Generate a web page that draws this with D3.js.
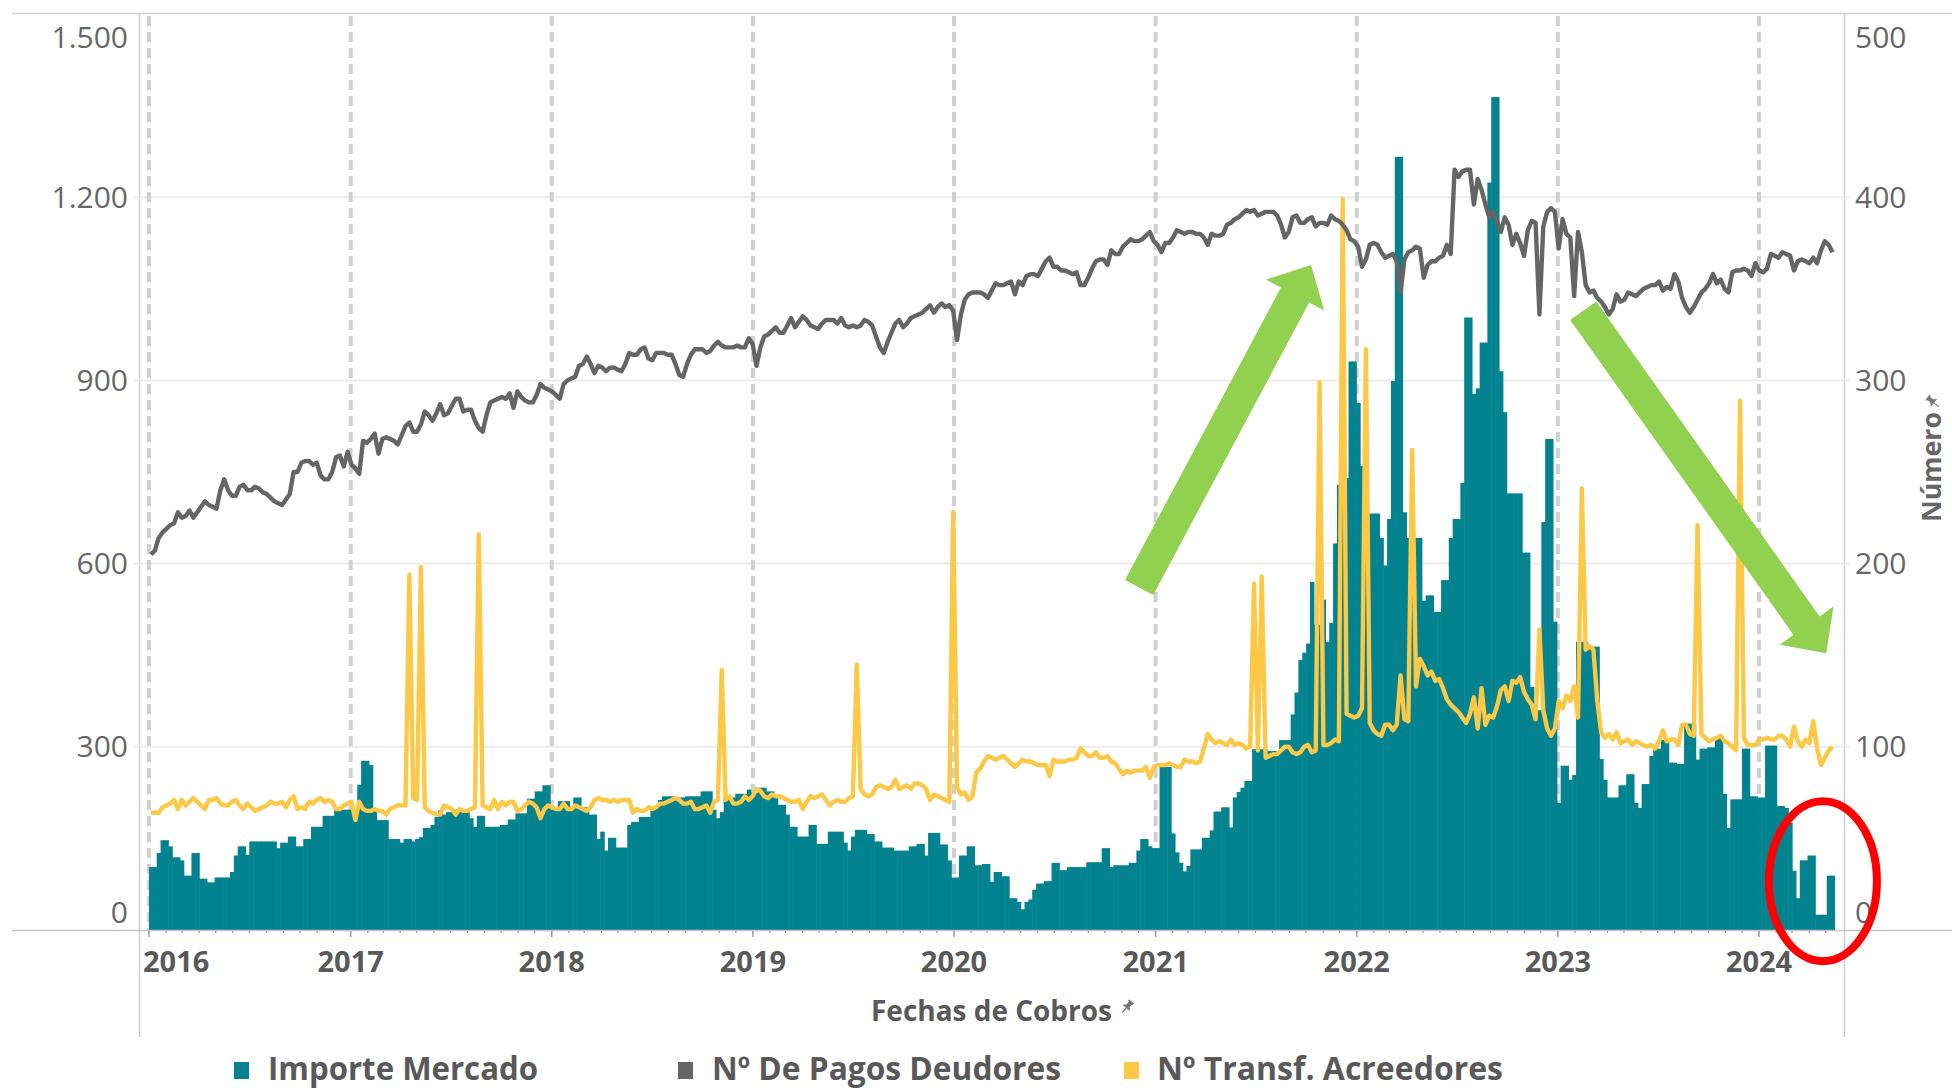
<!DOCTYPE html>
<html>
<head>
<meta charset="utf-8">
<script src="https://cdn.jsdelivr.net/npm/d3@7"></script>
<style>
  html, body { margin: 0; padding: 0; background: #ffffff; }
  svg { display: block; }
  text { font-family: "Open Sans", "Noto Sans", sans-serif; }
</style>
</head>
<body>
<svg id="chart" width="1952" height="1090"></svg>
<script>
// Weekly series, one value per week starting on the first week of 2016
const firstWeek = "2016-01-01";
const yearTicks = [2016, 2017, 2018, 2019, 2020, 2021, 2022, 2023, 2024];
const leftTicks = [0, 300, 600, 900, 1200, 1500];
const rightTicks = [0, 100, 200, 300, 400, 500];
const leftTickLabels = ["0", "300", "600", "900", "1.200", "1.500"];
const rightTickLabels = ["0", "100", "200", "300", "400", "500"];
const seriesNames = ["Importe Mercado", "Nº De Pagos Deudores", "Nº Transf. Acreedores"];

// Importe Mercado (left axis)
const importeMercado = [
  103,103,126,147,147,137,119,119,114,89, 89,126,126,84,84,78,78,86,86,86,
  86,95,122,137,137,123,145,145,145,145, 145,145,145,134,143,143,153,153,137,137,
  149,149,169,169,169,187,187,187,197,197, 197,197,
  197,197,238,277,277,270,197,180,180,180, 149,149,149,143,149,149,145,149,152,167,
  167,172,185,196,189,193,193,197,197,197, 197,183,169,187,
  187,169,169,169,169,172,172,181,181,191, 191,191,215,215,227,227,237,237,197,197,
  211,211,211,197,217,217,201,201,189,189, 149,161,130,151,151,135,135,135,172,177,
  177,185,185,185,199,199,213,219,219,219, 217,217,217,219,219,219,219,227,227,227,
  197,183,193,217,217,217,223,223,223,230, 225,225,233,233,227,227,217,205,205,189,
  169,169,153,153,153,172,172,141,141,141, 161,161,161,
  161,143,130,153,164,164,164,157,157,145, 145,135,135,135,130,130,130,130,137,137,
  141,141,122,159,159,159,140,140,114,86, 86,122,122,137,137,106,106,108,108,79,
  95,95,88,88,52,52,46,34,46,50, 66,76,76,80,80,110,110,98,98,103,
  103,103,103,103,111,111,111,111,134,134, 103,106,106,106,106,110,110,130,149,149,
  137,134,134,267,267,267,
  158,127,110,96,105,132,132,132,151,151, 163,194,194,201,201,168,217,226,233,244,
  244,296,296,296,296,293,293,293,311,311, 311,353,389,442,454,469,570,500,500,541,
  472,503,633,729,740,740,931,931,863,760, 760,682,682,682,642,597,673,899,1266,1266,
  684,642,642,642,642,539,548,548,521,521, 573,573,642,673,673,732,1003,1003,878,887,
  962,962,1224,1364,1364,
  915,848,715,715,715,715,618,618,398,360, 360,668,804,804,505,208,269,269,246,254,
  472,472,472,464,464,464,280,246,217,217, 217,237,237,255,255,208,200,239,239,285,
  297,297,311,311,274,274,272,272,338,338, 338,279,297,297,299,299,316,316,223,167,
  214,214,214,297,297,219,219,217,217,302, 302,302,203,203,200,176,97,52,114,114,
  122,122,25,25,25,89,89
];

// Nº De Pagos Deudores (right axis)
const pagosDeudores = [
  205,207,214,217,219,221,222,228,225,226, 229,225,228,231,234,232,231,230,240,246,
  240,237,237,242,243,240,240,242,241,239, 238,236,234,233,232,235,238,250,250,255,
  256,256,254,255,248,246,246,250,258,259, 253,261,
  254,252,249,267,266,268,271,260,268,269, 268,267,265,270,275,277,272,272,276,283,
  281,278,282,287,281,282,286,290,290,283, 284,284,278,274,272,281,288,289,
  290,291,290,293,285,294,291,289,288,288, 292,298,296,295,
  294,292,290,298,300,301,302,308,309,313, 309,304,308,307,305,307,307,306,305,309,
  315,314,314,317,318,312,311,315,315,315, 314,314,309,303,302,309,314,317,317,317,
  315,316,319,321,319,318,318,318,319,318, 318,323,
  320,308,318,324,325,327,329,326,326,330, 334,329,332,335,333,330,329,328,331,333,
  333,333,
  331,334,330,329,330,329,330,333,332,330, 324,318,315,321,326,331,333,329,331,334,
  335,336,337,339,341,337,340,342,340,341, 338,322,336,344,347,348,348,348,347,345,
  349,353,352,352,353,354,347,354,352,357, 358,358,357,361,365,367,362,362,360,360,
  359,358,359,352,352,356,361,365,366,366, 363,371,369,369,373,375,377,376,376,377,
  379,381,376,374,370,375,375,378,
  382,381,380,381,381,380,380,378,374,380, 379,379,380,385,386,388,389,391,393,392,
  393,390,391,392,392,392,390,385,378,381, 389,390,386,386,388,389,384,386,386,385,
  390,388,387,385,382,377,376,373,362,366, 374,375,374,370,367,368,369,365,348,366,
  370,371,373,372,356,363,365,365,367,368, 374,369,415,411,414,415,415,396,410,404,
  396,389,392,387,381,389,385,374,380,375, 368,382,387,
  386,336,384,392,394,392,372,388,380,378, 346,381,370,352,348,349,345,343,340,336,
  339,347,343,344,348,347,346,348,350,351, 352,352,354,349,351,350,358,354,345,340,
  337,340,344,348,350,353,358,353,355,350, 348,359,360,360,361,360,357,364,360,359,
  361,369,368,367,370,369,368,360,365,366, 365,364,367,364,371,376,374,370
];

// Nº Transf. Acreedores (right axis)
const transfAcreedores = [
  64,64,64,67,68,69,71,66,71,68, 70,72,70,68,66,71,71,72,69,68,
  68,70,71,68,66,69,67,65,66,67, 68,70,69,69,70,67,71,73,66,67,
  66,70,69,71,72,70,71,70,66,66, 68,69,70,60,70,66,65,65,66,65,
  65,63,66,67,68,68,68,194,72,71, 198,67,65,64,63,63,68,67,66,63,
  66,65,65,66,67,216,68,67,66,71,
  66,70,68,70,70,65,66,68,70,69, 67,61,66,68,67,66,66,69,66,66,
  68,67,66,65,67,71,72,71,71,70, 71,70,71,71,71,64,66,65,65,67,
  66,67,69,69,70,71,72,71,69,69, 70,66,66,67,68,64,70,71,142,71,
  73,69,69,70,73,71,73,77,76,73, 72,74,73,73,72,71,70,70,71,66,
  70,73,72,73,74,71,68,70,71,
  70,70,72,73,145,77,74,73,74,78, 79,78,77,78,82,77,78,79,77,80,
  80,79,77,71,74,73,72,71,70,228, 78,74,75,71,73,86,88,92,95,94,
  93,94,95,93,91,89,91,93,92,92, 91,90,90,90,84,93,92,92,92,93,
  93,94,99,97,95,95,97,94,94,95, 92,91,88,85,87,86,87,87,87,89,
  83,89,90,90,90,91,90,89,
  89,93,92,92,91,92,99,107,104,102, 103,102,101,104,101,102,101,99,100,189,
  98,193,94,95,96,96,98,100,100,97, 96,97,100,101,97,98,299,101,101,102,
  104,103,399,118,117,116,117,121,317,113, 109,107,106,112,112,109,112,139,115,114,
  262,133,148,144,139,141,136,137,132,126, 123,121,119,116,113,118,127,110,132,112,
  117,116,122,131,133,125,136,135,138,130, 126,123,
  115,164,120,110,106,110,125,121,128,125, 133,116,241,153,155,153,125,108,105,107,
  104,108,102,103,104,101,103,102,101,100, 101,99,103,109,103,104,104,101,112,112,
  107,106,221,107,105,103,104,105,106,103, 102,100,98,289,105,101,101,101,104,104,
  105,104,104,106,106,104,100,111,103,100, 104,102,114,99,90,94,98,100
];

// Annotations, placed in data space: trend arrows and the highlight ellipse
const arrowUp = { from: ["2020-12-02", 187], to: ["2021-10-10", 363] };
const arrowDown = { from: ["2023-02-16", 338], to: ["2024-05-02", 151] };
const highlight = { at: ["2024-04-26", 80] };

const colors = {
  bars: "#03828f",
  pagos: "#656565",
  transf: "#fcc845",
  arrow: "#92d050",
  ring: "#ff0000",
  label: "#666666",
  labelDark: "#595959"
};

const W = 1952, H = 1090;
const plot = { left: 139, right: 1844, top: 14, bottom: 930 };

const svg = d3.select("#chart");
svg.append("rect").attr("width", W).attr("height", H).attr("fill", "#ffffff");

const parse = d3.timeParse("%Y-%m-%d");
const start = parse(firstWeek);
const weekDate = i => d3.timeDay.offset(start, 7 * i);

const x = d3.scaleTime()
  .domain([new Date(2016, 0, 1), new Date(2024, 0, 1)])
  .range([149, 1759]);
const yL = d3.scaleLinear().domain([0, 1500]).range([plot.bottom, plot.top]);
const yR = d3.scaleLinear().domain([0, 500]).range([plot.bottom, plot.top]);

const weeks = importeMercado.map((v, i) => ({
  i,
  start: weekDate(i),
  end: weekDate(i + 1),
  mid: d3.timeHour.offset(weekDate(i), 84),
  importe: v,
  pagos: pagosDeudores[i],
  transf: transfAcreedores[i]
}));

// frame
svg.append("line").attr("x1", 12).attr("x2", W).attr("y1", 13.5).attr("y2", 13.5)
  .attr("stroke", "#d2d2d2").attr("stroke-width", 1.5);
svg.append("line").attr("x1", plot.left + 0.5).attr("x2", plot.left + 0.5).attr("y1", 13).attr("y2", 1037)
  .attr("stroke", "#cfcfcf").attr("stroke-width", 1.5);
svg.append("line").attr("x1", plot.right + 0.5).attr("x2", plot.right + 0.5).attr("y1", 13).attr("y2", 1037)
  .attr("stroke", "#cfcfcf").attr("stroke-width", 1.5);

// horizontal gridlines
svg.append("g").selectAll("line")
  .data(leftTicks.filter(v => v > 0 && v < 1500))
  .join("line")
  .attr("x1", plot.left - 6).attr("x2", plot.right + 6)
  .attr("y1", d => yL(d)).attr("y2", d => yL(d))
  .attr("stroke", "#ececec").attr("stroke-width", 2);

// yearly dashed reference lines
svg.append("g").selectAll("line")
  .data(yearTicks)
  .join("line")
  .attr("x1", d => x(new Date(d, 0, 1))).attr("x2", d => x(new Date(d, 0, 1)))
  .attr("y1", plot.top + 2).attr("y2", plot.bottom)
  .attr("stroke", "#d0d0d0").attr("stroke-width", 4)
  .attr("stroke-dasharray", "10,6");

// bars
svg.append("g").selectAll("rect")
  .data(weeks)
  .join("rect")
  .attr("x", d => x(d.start))
  .attr("width", d => x(d.end) - x(d.start) + 0.6)
  .attr("y", d => yL(d.importe))
  .attr("height", d => yL(0) - yL(d.importe))
  .attr("fill", colors.bars);

// baseline
svg.append("line").attr("x1", 12).attr("x2", W).attr("y1", plot.bottom + 0.5).attr("y2", plot.bottom + 0.5)
  .attr("stroke", "#c4c4c4").attr("stroke-width", 1.5);

// monthly ticks under the baseline
const months = d3.timeMonth.range(new Date(2016, 0, 1), new Date(2024, 5, 1));
svg.append("g").selectAll("line")
  .data(months)
  .join("line")
  .attr("x1", d => x(d)).attr("x2", d => x(d))
  .attr("y1", plot.bottom + 1)
  .attr("y2", d => plot.bottom + (d.getMonth() === 0 ? 7 : 3))
  .attr("stroke", "#9a9a9a").attr("stroke-width", d => d.getMonth() === 0 ? 1.5 : 1.2);

// lines
const lineR = key => d3.line().x(d => x(d.mid)).y(d => yR(d[key]));

svg.append("path").datum(weeks)
  .attr("d", lineR("transf"))
  .attr("fill", "none").attr("stroke", colors.transf)
  .attr("stroke-width", 4.4).attr("stroke-linejoin", "round");

svg.append("path").datum(weeks)
  .attr("d", lineR("pagos"))
  .attr("fill", "none").attr("stroke", colors.pagos)
  .attr("stroke-width", 4.4).attr("stroke-linejoin", "round");

// left axis labels
svg.append("g").selectAll("text")
  .data(leftTicks)
  .join("text")
  .attr("x", 128)
  .attr("y", d => yL(d) + (d === 1500 ? 23 : d === 0 ? -18 : 0))
  .attr("dy", "0.35em")
  .attr("text-anchor", "end")
  .attr("font-size", 30)
  .attr("fill", colors.label)
  .text((d, k) => leftTickLabels[k]);

// right axis labels
svg.append("g").selectAll("text")
  .data(rightTicks)
  .join("text")
  .attr("x", 1855)
  .attr("y", d => yR(d) + (d === 500 ? 23 : d === 0 ? -18 : 0))
  .attr("dy", "0.35em")
  .attr("text-anchor", "start")
  .attr("font-size", 30)
  .attr("fill", colors.label)
  .text((d, k) => rightTickLabels[k]);

// year labels
svg.append("g").selectAll("text")
  .data(yearTicks)
  .join("text")
  .attr("x", d => d === 2016 ? x(new Date(d, 0, 1)) - 6 : x(new Date(d, 0, 1)))
  .attr("y", 972)
  .attr("text-anchor", d => d === 2016 ? "start" : "middle")
  .attr("font-size", 29)
  .attr("font-weight", 700)
  .attr("fill", colors.labelDark)
  .text(d => d);

// small pin glyph used next to axis titles
function pin(g, px, py, angle) {
  const p = g.append("g").attr("transform", `translate(${px},${py}) rotate(${angle}) scale(0.9)`);
  p.append("path")
    .attr("d", "M-3.5,-8 h7 v2 h-1.2 v4.2 l3.2,3.3 h-11 l3.2,-3.3 v-4.2 h-1.2 z")
    .attr("fill", "#777777");
  p.append("line").attr("x1", 0).attr("x2", 0).attr("y1", 1.5).attr("y2", 8)
    .attr("stroke", "#777777").attr("stroke-width", 1.4);
}

// x axis title
svg.append("text")
  .attr("x", 871).attr("y", 1021)
  .attr("font-size", 28).attr("font-weight", 700)
  .attr("fill", colors.labelDark)
  .attr("textLength", 241).attr("lengthAdjust", "spacingAndGlyphs")
  .text("Fechas de Cobros");
pin(svg, 1127, 1007, 40);

// right axis title
svg.append("text")
  .attr("transform", "translate(1941,467) rotate(-90)")
  .attr("text-anchor", "middle")
  .attr("font-size", 26).attr("font-weight", 700)
  .attr("fill", colors.label)
  .attr("textLength", 110).attr("lengthAdjust", "spacingAndGlyphs")
  .text("Número");
pin(svg, 1933, 402, -50);

// legend
const legendItems = [
  { name: seriesNames[0], color: colors.bars, sx: 234, tx: 268, len: 270 },
  { name: seriesNames[1], color: colors.pagos, sx: 678, tx: 712, len: 349 },
  { name: seriesNames[2], color: colors.transf, sx: 1124, tx: 1157, len: 346 }
];
const lg = svg.append("g");
lg.selectAll("rect").data(legendItems).join("rect")
  .attr("x", d => d.sx).attr("y", 1062).attr("width", 15).attr("height", 17)
  .attr("fill", d => d.color);
lg.selectAll("text").data(legendItems).join("text")
  .attr("x", d => d.tx).attr("y", 1080)
  .attr("font-size", 32).attr("font-weight", 700)
  .attr("fill", colors.labelDark)
  .attr("textLength", d => d.len).attr("lengthAdjust", "spacingAndGlyphs")
  .text(d => d.name);

// annotation arrows
function blockArrow(a) {
  const p0 = [x(parse(a.from[0])), yR(a.from[1])];
  const p1 = [x(parse(a.to[0])), yR(a.to[1])];
  const dx = p1[0] - p0[0], dy = p1[1] - p0[1];
  const len = Math.hypot(dx, dy);
  const ux = dx / len, uy = dy / len;
  const nx = -uy, ny = ux;
  const shaft = 16, head = 33, headLen = 34;
  const bx = p1[0] - ux * headLen, by = p1[1] - uy * headLen;
  const pts = [
    [p0[0] + nx * shaft, p0[1] + ny * shaft],
    [bx + nx * shaft, by + ny * shaft],
    [bx + nx * head, by + ny * head],
    p1,
    [bx - nx * head, by - ny * head],
    [bx - nx * shaft, by - ny * shaft],
    [p0[0] - nx * shaft, p0[1] - ny * shaft]
  ];
  svg.append("polygon")
    .attr("points", pts.map(p => p.join(",")).join(" "))
    .attr("fill", colors.arrow);
}
blockArrow(arrowUp);
blockArrow(arrowDown);

// highlight ring around the latest weeks
svg.append("ellipse")
  .attr("cx", x(parse(highlight.at[0])))
  .attr("cy", yL(highlight.at[1]))
  .attr("rx", 54).attr("ry", 80)
  .attr("fill", "none")
  .attr("stroke", colors.ring).attr("stroke-width", 8);
</script>
</body>
</html>
